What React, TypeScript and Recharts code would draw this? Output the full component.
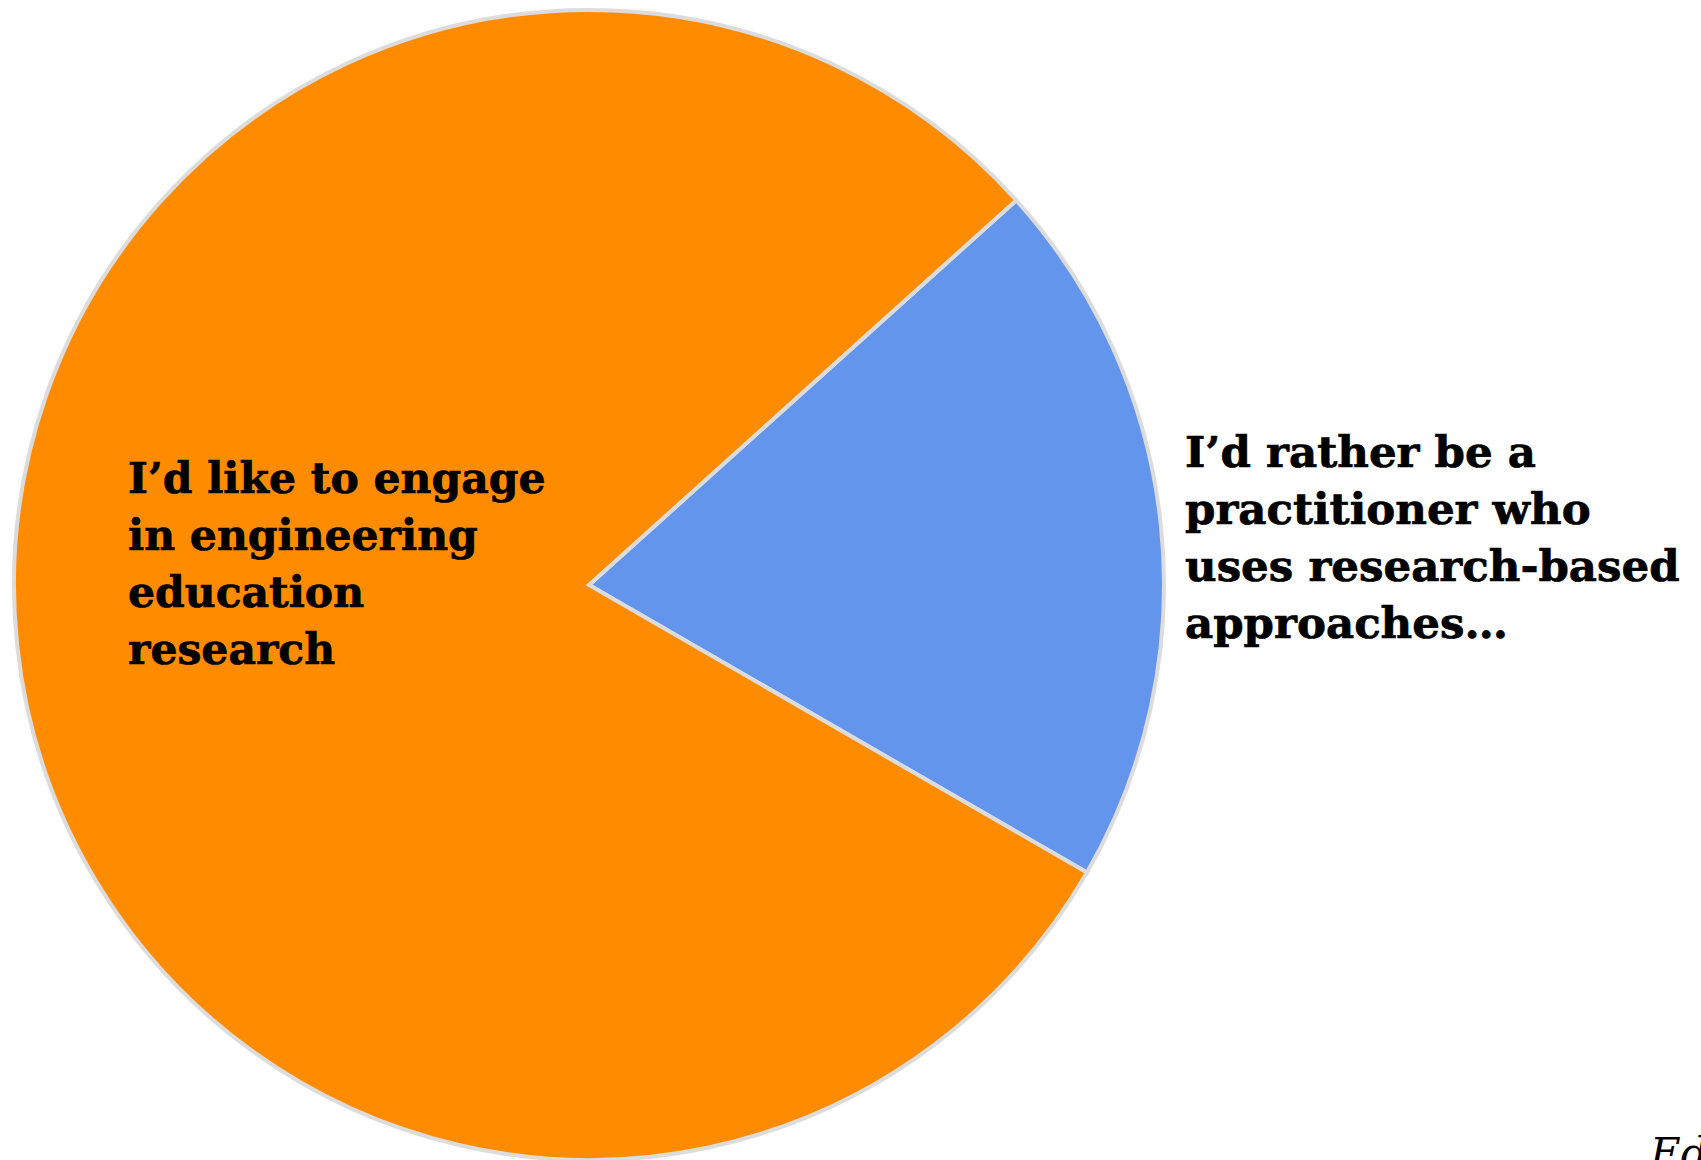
import React from "react";
import { PieChart, Pie, Cell } from "recharts";

const categories = ["Practitioner", "Researcher"];
const values = [20, 80];
const COLORS = ["#6495ED", "#FF8C00"];
const labelLines = [
  ["I’d rather be a", "practitioner who", "uses research-based", "approaches…"],
  ["I’d like to engage", "in engineering", "education", "research"],
];

const data = categories.map((name, i) => ({ name, value: values[i] }));

const FONT = "'DejaVu Serif', serif";

const renderLabel = (props: any) => {
  const { cx, cy, index } = props;
  const lines = labelLines[index];
  // offsets from the pie centre to the first baseline of each block
  const x = index === 0 ? cx + 596 : cx - 461;
  const y = index === 0 ? cy - 118 : cy - 92;
  return (
    <text
      x={x}
      y={y}
      fill="#000"
      stroke="#000"
      strokeWidth={0.7}
      fontFamily={FONT}
      fontWeight="bold"
      fontSize={index === 0 ? 43.5 : 42.5}
    >
      {lines.map((l, i) => (
        <tspan key={i} x={x} dy={i === 0 ? 0 : 57}>
          {l}
        </tspan>
      ))}
    </text>
  );
};

export default function App() {
  return (
    <div style={{ position: "fixed", left: 0, top: 0, width: 1701, height: 1160, background: "#fff" }}>
      <PieChart width={1701} height={1160} margin={{ top: 0, right: 0, bottom: 0, left: 0 }}>
        <Pie
          data={data}
          dataKey="value"
          nameKey="name"
          cx={589}
          cy={585}
          outerRadius={575}
          startAngle={42}
          endAngle={-318}
          stroke="#DCDCDC"
          strokeWidth={4}
          label={renderLabel}
          labelLine={false}
          isAnimationActive={false}
        >
          {data.map((_, i) => (
            <Cell key={i} fill={COLORS[i]} />
          ))}
        </Pie>
        <text
          x={1650}
          y={1168}
          fontFamily={FONT}
          fontStyle="italic"
          fontSize={42}
          fill="#000"
        >
          Ed
        </text>
      </PieChart>
    </div>
  );
}
